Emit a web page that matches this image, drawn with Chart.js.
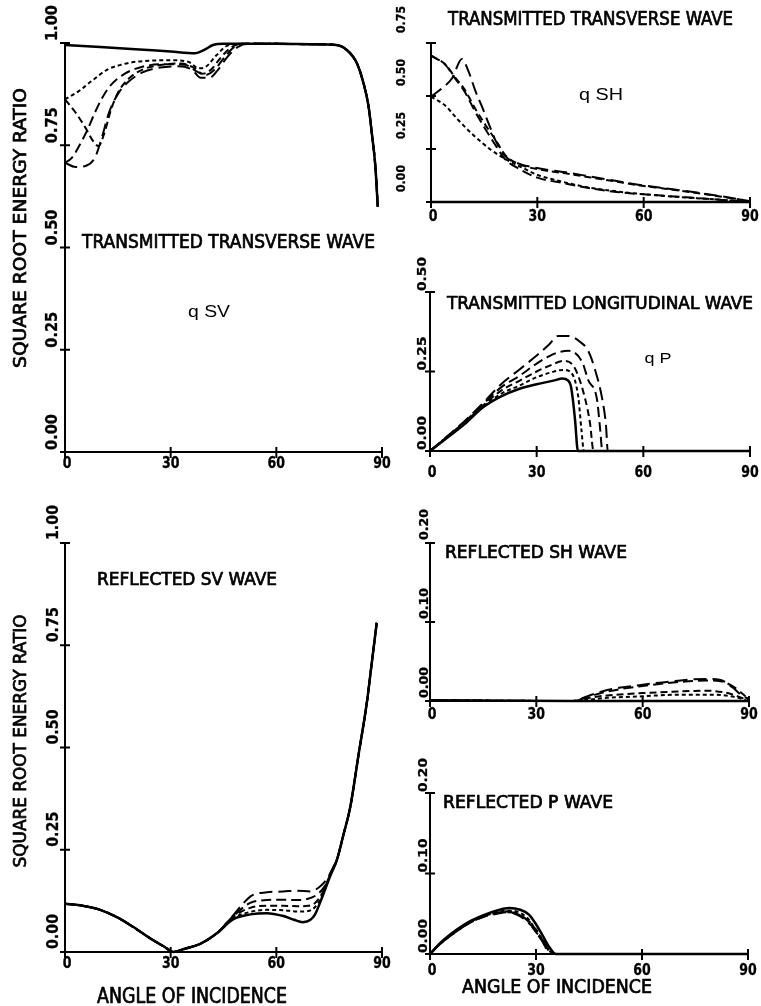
<!DOCTYPE html>
<html><head><meta charset="utf-8">
<script src="https://cdn.jsdelivr.net/npm/chart.js@4/dist/chart.umd.min.js"></script>
<style>
html,body{margin:0;padding:0;background:#fff;}
body{width:761px;height:1006px;position:relative;overflow:hidden;}
canvas{position:absolute;display:block;}
</style></head><body>
<canvas id="cA"></canvas><canvas id="cB"></canvas><canvas id="cC"></canvas>
<canvas id="cD"></canvas><canvas id="cE"></canvas><canvas id="cF"></canvas>
<script>
// ---------- ticks ----------
const angleTicks = [0, 30, 60, 90];
const angleTickLabels = ['0', '30', '60', '90'];
const unitTicks = [0, 0.25, 0.5, 0.75, 1];
const unitTickLabels = ['0.00', '0.25', '0.50', '0.75', '1.00'];
const shTicks = [0, 0.25, 0.5, 0.75];
const shTickLabels = ['0.00', '0.25', '0.50', '0.75'];
const pTicks = [0, 0.25, 0.5];
const pTickLabels = ['0.00', '0.25', '0.50'];
const smallTicks = [0, 0.1, 0.2];
const smallTickLabels = ['0.00', '0.10', '0.20'];

// ---------- transmitted transverse wave qSV (angle, ratio) ----------
const qsvSolid = [[0,0.995],[10,0.99],[20,0.985],[30,0.979],[37,0.975],[39.5,0.983],[42,0.995],[45,0.998],[50,0.998],[60,0.998],[70,0.997],[77,0.995],[80,0.983],[82.9,0.95],[84.8,0.9],[86.2,0.844],[87.1,0.78],[88.1,0.7],[88.8,0.6]];
const qsvDash1 = [[0,0.862],[4,0.883],[8,0.91],[12,0.935],[16,0.947],[20,0.954],[25,0.957],[30,0.958],[35,0.954],[38,0.938],[40,0.942],[43,0.97],[46,0.993],[50,0.998],[60,0.998],[70,0.997],[77,0.995],[80,0.983],[82.9,0.95],[84.8,0.9],[86.2,0.844],[87.1,0.78],[88.1,0.7],[88.8,0.6]];
const qsvDash2 = [[0,0.862],[3,0.83],[6,0.79],[8,0.76],[9.5,0.748],[11,0.775],[13,0.835],[15,0.878],[18,0.912],[22,0.935],[27,0.946],[33,0.95],[36.5,0.94],[39,0.925],[41.5,0.935],[44,0.962],[47,0.988],[50,0.998],[60,0.998],[70,0.997],[77,0.995],[80,0.983],[82.9,0.95],[84.8,0.9],[86.2,0.844],[87.1,0.78],[88.1,0.7],[88.8,0.6]];
const qsvDash3 = [[0,0.707],[2,0.72],[4,0.748],[6.5,0.79],[8.5,0.83],[10.5,0.865],[13,0.897],[17,0.925],[22,0.942],[28,0.948],[34,0.947],[37.5,0.93],[40,0.922],[42.5,0.935],[45,0.962],[48,0.99],[51,0.998],[60,0.998],[70,0.997],[77,0.995],[80,0.983],[82.9,0.95],[84.8,0.9],[86.2,0.844],[87.1,0.78],[88.1,0.7],[88.8,0.6]];
const qsvDash4 = [[0,0.707],[3,0.697],[6,0.7],[8.5,0.72],[10.5,0.77],[12.5,0.83],[15,0.875],[18,0.905],[22,0.928],[27,0.94],[32,0.943],[36,0.935],[38.5,0.915],[41,0.915],[43.5,0.935],[46,0.965],[49,0.99],[52,0.998],[60,0.998],[70,0.997],[77,0.995],[80,0.983],[82.9,0.95],[84.8,0.9],[86.2,0.844],[87.1,0.78],[88.1,0.7],[88.8,0.6]];

// ---------- transmitted transverse wave qSH ----------
const qshSolid = [[0,0],[90,0]];
const qshDash1 = [[0,0.497],[4,0.455],[7.5,0.39],[12,0.315],[17,0.245],[21.5,0.198],[26,0.16],[30,0.128],[36,0.1],[44,0.07],[55,0.045],[65,0.03],[75,0.018],[82,0.01],[90,0.001]];
const qshDash2 = [[0,0.69],[4,0.65],[6.7,0.59],[9.5,0.53],[12.5,0.44],[15.5,0.36],[18.5,0.285],[21,0.22],[25,0.178],[30,0.155],[38,0.135],[45,0.116],[52,0.097],[59,0.078],[66,0.063],[73,0.047],[80,0.03],[88,0.009],[90,0.003]];
const qshDash3 = [[0,0.69],[4,0.648],[6.7,0.585],[9.5,0.52],[12.5,0.425],[15.5,0.34],[18.5,0.26],[21,0.2],[25,0.155],[30,0.115],[37,0.09],[44.5,0.066],[53,0.046],[63,0.033],[72,0.022],[82,0.01],[90,0.001]];
const qshDash4 = [[0,0.497],[3,0.535],[6,0.585],[8.7,0.675],[10.5,0.62],[12.5,0.525],[14.5,0.445],[16.5,0.36],[18.5,0.28],[21,0.215],[25,0.18],[30,0.16],[38,0.14],[45,0.12],[52,0.1],[59,0.08],[66,0.065],[73,0.049],[80,0.032],[88,0.01],[90,0.004]];

// ---------- transmitted longitudinal wave qP ----------
const qpSolid = [[0,0],[5,0.043],[10,0.087],[15,0.138],[20,0.172],[25,0.195],[30,0.21],[35,0.222],[37.2,0.228],[38.8,0.222],[39.6,0.205],[40.2,0.16],[40.8,0.097],[41.6,0],[90,0]];
const qpDash1 = [[0,0],[5,0.045],[10,0.09],[15,0.14],[20,0.18],[25,0.205],[30,0.232],[34,0.247],[37.5,0.255],[39.8,0.245],[41.7,0.17],[42.6,0.066],[43.3,0],[90,0]];
const qpDash2 = [[0,0],[5,0.046],[10,0.092],[15,0.144],[20,0.19],[25,0.22],[30,0.25],[34,0.27],[37.5,0.283],[40.5,0.265],[43.5,0.17],[45,0.088],[46,0],[90,0]];
const qpDash3 = [[0,0],[5,0.047],[10,0.094],[15,0.148],[20,0.2],[25,0.235],[30,0.275],[33,0.295],[36,0.31],[39,0.315],[42.8,0.28],[44.5,0.223],[47,0.16],[47.8,0.075],[48.5,0],[90,0]];
const qpDash4 = [[0,0],[5,0.048],[10,0.097],[15,0.152],[20,0.21],[25,0.255],[30,0.3],[33.5,0.335],[36,0.362],[39,0.362],[42,0.345],[44.5,0.315],[46.3,0.26],[48.5,0.16],[49.5,0.08],[50,0],[90,0]];

// ---------- reflected SV wave ----------
const rsvSolid = [[0,0.118],[5,0.113],[10,0.103],[15,0.084],[19.4,0.061],[25,0.029],[28,0.014],[30.8,0],[34,0.008],[38.4,0.02],[43,0.045],[47.8,0.08],[52.6,0.092],[57.3,0.095],[62,0.088],[65,0.079],[67.5,0.073],[69.6,0.078],[71,0.092],[72.7,0.127],[75.3,0.186],[77.2,0.225],[79,0.285],[81,0.355],[83.3,0.48],[85.7,0.61],[87,0.7],[88.5,0.805]];
const rsvDash1 = [[0,0.118],[5,0.113],[10,0.103],[15,0.084],[19.4,0.061],[25,0.029],[28,0.014],[30.8,0],[34,0.008],[38.4,0.02],[43,0.045],[47.8,0.083],[52.6,0.098],[57.3,0.103],[62,0.102],[66,0.099],[69,0.1],[71,0.11],[73,0.137],[75.3,0.188],[77.2,0.225],[79,0.285],[81,0.355],[83.3,0.48],[85.7,0.61],[87,0.7],[88.5,0.805]];
const rsvDash2 = [[0,0.118],[5,0.113],[10,0.103],[15,0.084],[19.4,0.061],[25,0.029],[28,0.014],[30.8,0],[34,0.008],[38.4,0.02],[43,0.045],[47.8,0.086],[52.6,0.108],[57.3,0.113],[62,0.113],[66,0.112],[69,0.113],[71,0.12],[73,0.143],[75.3,0.19],[77.2,0.226],[79,0.285],[81,0.355],[83.3,0.48],[85.7,0.61],[87,0.7],[88.5,0.805]];
const rsvDash3 = [[0,0.118],[5,0.113],[10,0.103],[15,0.084],[19.4,0.061],[25,0.029],[28,0.014],[30.8,0],[34,0.008],[38.4,0.02],[43,0.045],[47.8,0.088],[52.6,0.12],[57.3,0.127],[62,0.128],[66,0.127],[69,0.13],[71.5,0.14],[73.5,0.158],[75.5,0.192],[77.2,0.226],[79,0.285],[81,0.355],[83.3,0.48],[85.7,0.61],[87,0.7],[88.5,0.805]];
const rsvDash4 = [[0,0.118],[5,0.113],[10,0.103],[15,0.084],[19.4,0.061],[25,0.029],[28,0.014],[30.8,0],[34,0.008],[38.4,0.02],[43,0.045],[47.8,0.09],[50.5,0.118],[53,0.138],[57.3,0.146],[62,0.148],[66,0.15],[69.6,0.148],[72.4,0.16],[74.5,0.18],[76,0.205],[77.2,0.227],[79,0.285],[81,0.355],[83.3,0.48],[85.7,0.61],[87,0.7],[88.5,0.805]];

// ---------- reflected SH wave ----------
const rshSolid = [[0,0.001],[40,0],[90,0]];
const rshDash1 = [[0,0.001],[40,0],[50,0.004],[60,0.006],[70,0.008],[80,0.008],[86,0.005],[90,0]];
const rshDash2 = [[0,0.001],[40,0],[45,0.004],[50,0.007],[60,0.01],[70,0.012],[78,0.013],[84,0.01],[88,0.004],[90,0.001]];
const rshDash3 = [[0,0],[40,0],[45,0.006],[50,0.012],[60,0.019],[70,0.024],[78,0.026],[82,0.025],[86,0.017],[89,0.006]];
const rshDash4 = [[0,0],[40,0],[45,0.007],[50,0.014],[59,0.02],[68.5,0.025],[78,0.028],[81.7,0.027],[85.4,0.017],[88.2,0.006],[90,0.003]];

// ---------- reflected P wave ----------
const rpSolid = [[0,0],[3,0.014],[7.5,0.03],[11,0.04],[15,0.048],[19,0.054],[22.4,0.057],[25.5,0.055],[28,0.049],[30,0.037],[31.5,0.026],[33.7,0.009],[35.6,0],[90,0]];
const rpDash1 = [[0,0],[3,0.013],[7.5,0.029],[11,0.039],[15,0.047],[19,0.052],[22,0.054],[25,0.052],[27.5,0.045],[29.5,0.033],[31.5,0.02],[33.5,0.008],[35,0],[90,0]];
const rpDash2 = [[0,0],[3,0.013],[7.5,0.029],[11,0.039],[15,0.047],[19,0.051],[22,0.053],[24.5,0.05],[27,0.044],[29,0.036],[30.5,0.024],[32.5,0.012],[34.5,0],[90,0]];
const rpDash3 = [[0,0],[3,0.013],[7.5,0.028],[11,0.038],[15,0.046],[19,0.051],[22,0.052],[25,0.05],[27.5,0.042],[29.5,0.03],[31,0.022],[33,0.01],[34.8,0],[90,0]];
const rpDash4 = [[0,0],[3,0.013],[7.5,0.028],[11,0.038],[15,0.046],[19,0.05],[22,0.052],[24.5,0.049],[26.5,0.044],[28.5,0.036],[30.5,0.028],[32,0.014],[34.2,0],[90,0]];

// ---------- styles ----------
const PLOT_FONT = '"DejaVu Sans Condensed", "DejaVu Sans", sans-serif';
const LABEL_FONT = '"Liberation Sans", Arial, sans-serif';
const lineStyles = [
  { borderWidth: 2.5, borderDash: [] },
  { borderWidth: 2, borderDash: [4, 3] },
  { borderWidth: 2, borderDash: [7, 4] },
  { borderWidth: 2, borderDash: [10, 5] },
  { borderWidth: 2, borderDash: [13, 6] }
];

const panels = [
  { id: 'cA', box: [0, 0, 392, 490], area: [65, 43, 382, 452], yMax: 1,
    series: [qsvSolid, qsvDash1, qsvDash2, qsvDash3, qsvDash4],
    yTicks: unitTicks, yLabels: unitTickLabels,
    yLab: { cx: 51, len: 36, cap: 11, off: 2 }, xLab: { dy: 10, cap: 12 },
    texts: [
      { t: 'TRANSMITTED TRANSVERSE WAVE', x: 228.5, y: 240.5, cap: 14, w: 293 },
      { t: 'q SV', x: 209, y: 311, cap: 12, w: 42, family: LABEL_FONT, ratio: 0.716, plain: true },
      { t: 'SQUARE ROOT ENERGY RATIO', x: 19, y: 228, cap: 13, w: 280, rot: true }
    ] },
  { id: 'cB', box: [392, 0, 369, 235], area: [431, 43, 750, 202], yMax: 0.75,
    series: [qshSolid, qshDash1, qshDash2, qshDash3, qshDash4],
    yTicks: shTicks, yLabels: shTickLabels,
    yLab: { cx: 400, len: 27, cap: 9, off: 10 }, xLab: { dy: 13, cap: 12 },
    texts: [
      { t: 'TRANSMITTED TRANSVERSE WAVE', x: 590.5, y: 17.5, cap: 14, w: 285 },
      { t: 'q SH', x: 601, y: 94, cap: 12, w: 44, family: LABEL_FONT, ratio: 0.716, plain: true }
    ] },
  { id: 'cC', box: [392, 235, 369, 255], area: [430, 292, 750, 451], yMax: 0.5,
    series: [qpSolid, qpDash1, qpDash2, qpDash3, qpDash4],
    yTicks: pTicks, yLabels: pTickLabels,
    yLab: { cx: 421, len: 34, cap: 9, off: 1 }, xLab: { dy: 20, cap: 12 },
    texts: [
      { t: 'TRANSMITTED LONGITUDINAL WAVE', x: 600, y: 302, cap: 13, w: 306 },
      { t: 'q P', x: 658, y: 357.5, cap: 11, w: 27, family: LABEL_FONT, ratio: 0.716, plain: true }
    ] },
  { id: 'cD', box: [0, 490, 392, 516], area: [65, 543, 382, 952], yMax: 1,
    series: [rsvSolid, rsvDash1, rsvDash2, rsvDash3, rsvDash4],
    yTicks: unitTicks, yLabels: unitTickLabels,
    yLab: { cx: 52, len: 35, cap: 11, off: 3 }, xLab: { dy: 10, cap: 12 },
    texts: [
      { t: 'REFLECTED SV WAVE', x: 187, y: 578.5, cap: 13, w: 180 },
      { t: 'SQUARE ROOT ENERGY RATIO', x: 19, y: 741, cap: 13, w: 253, rot: true },
      { t: 'ANGLE OF INCIDENCE', x: 192, y: 995, cap: 15, w: 190 }
    ] },
  { id: 'cE', box: [392, 490, 369, 240], area: [430, 543, 749, 701], yMax: 0.2,
    series: [rshSolid, rshDash1, rshDash2, rshDash3, rshDash4],
    yTicks: smallTicks, yLabels: smallTickLabels,
    yLab: { cx: 423, len: 31, cap: 9, off: 3 }, xLab: { dy: 12, cap: 12 },
    texts: [
      { t: 'REFLECTED SH WAVE', x: 536, y: 551.5, cap: 13, w: 182 }
    ] },
  { id: 'cF', box: [392, 730, 369, 276], area: [430, 793, 748, 954], yMax: 0.2,
    series: [rpSolid, rpDash1, rpDash2, rpDash3, rpDash4],
    yTicks: smallTicks, yLabels: smallTickLabels,
    yLab: { cx: 422, len: 34, cap: 9, off: 1 }, xLab: { dy: 15, cap: 12 },
    texts: [
      { t: 'REFLECTED P WAVE', x: 528, y: 801.5, cap: 13, w: 170 },
      { t: 'ANGLE OF INCIDENCE', x: 557, y: 986, cap: 14, w: 190 }
    ] }
];

function drawText(ctx, t, o) {
  ctx.save();
  const ratio = o.ratio || 0.73;
  const fs = o.cap / ratio;
  ctx.font = (o.weight || 'normal') + ' ' + fs.toFixed(2) + 'px ' + (o.family || PLOT_FONT);
  ctx.translate(o.x, o.y);
  if (o.rot) ctx.rotate(-Math.PI / 2);
  const m = ctx.measureText(t).width;
  const sx = o.w ? o.w / m : (o.sx || 1);
  ctx.scale(sx, 1);
  ctx.textAlign = 'center';
  ctx.textBaseline = 'alphabetic';
  ctx.fillStyle = '#000';
  ctx.fillText(t, 0, o.cap / 2);
  if (!o.plain) {
    ctx.strokeStyle = '#000';
    ctx.lineWidth = o.stroke || 0.7;
    ctx.lineJoin = 'round';
    ctx.strokeText(t, 0, o.cap / 2);
  }
  ctx.restore();
}

function makeAxesPlugin(p) {
  return {
    id: 'paperAxes',
    afterDraw(chart) {
      const ctx = chart.ctx;
      const xs = chart.scales.x, ys = chart.scales.y;
      const ox = p.box[0], oy = p.box[1];
      const x0 = xs.getPixelForValue(0), y0 = ys.getPixelForValue(0);
      ctx.save();
      ctx.strokeStyle = '#000';
      ctx.lineWidth = 2;
      ctx.lineCap = 'butt';
      p.yTicks.forEach(v => {
        const y = ys.getPixelForValue(v);
        ctx.beginPath(); ctx.moveTo(x0 - 5, y); ctx.lineTo(x0 + 5, y); ctx.stroke();
      });
      angleTicks.forEach(v => {
        const x = xs.getPixelForValue(v);
        ctx.beginPath(); ctx.moveTo(x, y0 - 5); ctx.lineTo(x, y0 + 6); ctx.stroke();
      });
      ctx.restore();
      // y tick labels, rotated, reading upward from the tick
      p.yTicks.forEach((v, i) => {
        const y = ys.getPixelForValue(v);
        drawText(ctx, p.yLabels[i], { x: p.yLab.cx - ox, y: y - p.yLab.off - p.yLab.len / 2,
          cap: p.yLab.cap, w: p.yLab.len, rot: true, weight: 'bold', stroke: 0.3 });
      });
      // x tick labels
      angleTicks.forEach((v, i) => {
        const x = xs.getPixelForValue(v);
        const lab = angleTickLabels[i];
        drawText(ctx, lab, { x: x + (lab === '0' ? 2 : 0), y: y0 + p.xLab.dy, cap: p.xLab.cap,
          sx: 0.85, weight: 'bold', stroke: 0.3 });
      });
      p.texts.forEach(tx => {
        drawText(ctx, tx.t, Object.assign({}, tx, { x: tx.x - ox, y: tx.y - oy }));
      });
    }
  };
}

panels.forEach(p => {
  const cv = document.getElementById(p.id);
  cv.width = p.box[2]; cv.height = p.box[3];
  cv.style.left = p.box[0] + 'px'; cv.style.top = p.box[1] + 'px';
  cv.style.width = p.box[2] + 'px'; cv.style.height = p.box[3] + 'px';
  const pad = {
    left: p.area[0] - p.box[0],
    top: p.area[1] - p.box[1],
    right: p.box[0] + p.box[2] - p.area[2],
    bottom: p.box[1] + p.box[3] - p.area[3]
  };
  const datasets = p.series.map((s, i) => Object.assign({
    data: s.map(pt => ({ x: pt[0], y: pt[1] })),
    borderColor: '#000',
    backgroundColor: '#000',
    pointRadius: 0,
    fill: false,
    cubicInterpolationMode: 'monotone',
    borderCapStyle: 'butt',
    borderJoinStyle: 'round',
    clip: 4
  }, lineStyles[i]));
  new Chart(cv, {
    type: 'line',
    data: { datasets },
    options: {
      responsive: false,
      animation: false,
      devicePixelRatio: 1,
      layout: { padding: pad },
      plugins: { legend: { display: false }, tooltip: { enabled: false } },
      scales: {
        x: { type: 'linear', min: 0, max: 90,
             ticks: { display: false }, grid: { display: false, drawTicks: false },
             border: { display: true, color: '#000', width: 2 } },
        y: { type: 'linear', min: 0, max: p.yMax,
             ticks: { display: false }, grid: { display: false, drawTicks: false },
             border: { display: true, color: '#000', width: 2 } }
      }
    },
    plugins: [makeAxesPlugin(p)]
  });
});
</script>
</body></html>
